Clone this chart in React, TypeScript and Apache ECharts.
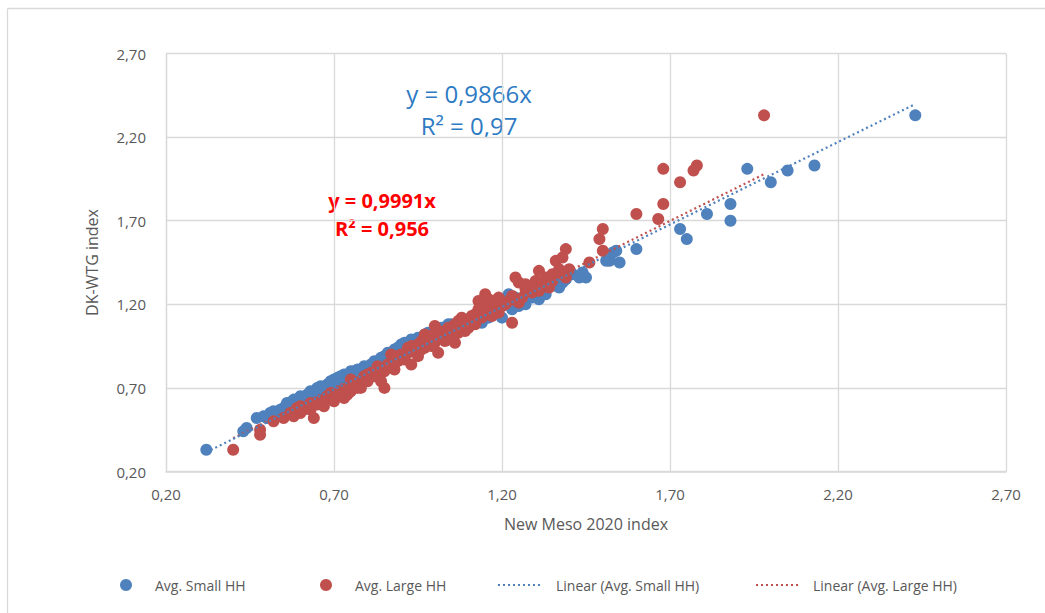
import React, { useEffect, useRef } from "react";
import * as echarts from "echarts";

const smallHH: number[][] = [
  [0.32, 0.33], [0.43, 0.44], [0.44, 0.46], [0.47, 0.52], [0.49, 0.53], [0.50, 0.52], [0.51, 0.55],
  [0.52, 0.56], [0.53, 0.55], [0.54, 0.57], [0.55, 0.58], [0.56, 0.59], [0.56, 0.61], [0.57, 0.60],
  [0.575, 0.57], [0.58, 0.63], [0.59, 0.62], [0.60, 0.63], [0.60, 0.65], [0.61, 0.64], [0.62, 0.66],
  [0.62, 0.62], [0.63, 0.68], [0.64, 0.67], [0.65, 0.70], [0.66, 0.71], [0.66, 0.68], [0.67, 0.69],
  [0.68, 0.72], [0.69, 0.73], [0.69, 0.74], [0.70, 0.72], [0.70, 0.75], [0.71, 0.76], [0.72, 0.74],
  [0.72, 0.77], [0.73, 0.78], [0.74, 0.77], [0.75, 0.80], [0.76, 0.80], [0.77, 0.81], [0.78, 0.78],
  [0.79, 0.83], [0.79, 0.80], [0.80, 0.82], [0.81, 0.84], [0.82, 0.86], [0.83, 0.86], [0.84, 0.88],
  [0.85, 0.89], [0.86, 0.91], [0.87, 0.90], [0.88, 0.93], [0.89, 0.94], [0.90, 0.96], [0.91, 0.97],
  [0.92, 0.96], [0.93, 0.99], [0.95, 1.00], [0.97, 1.02], [0.98, 1.03], [1.00, 1.05], [1.02, 1.06],
  [1.04, 1.08], [1.05, 1.08], [1.06, 1.05], [1.07, 1.08], [1.08, 1.10], [1.10, 1.11], [1.11, 1.09],
  [1.13, 1.11], [1.13, 1.12], [1.14, 1.09], [1.15, 1.14], [1.16, 1.12], [1.17, 1.18], [1.18, 1.15],
  [1.19, 1.17], [1.20, 1.12], [1.21, 1.23], [1.22, 1.20], [1.22, 1.26], [1.23, 1.17], [1.24, 1.24],
  [1.25, 1.23], [1.25, 1.19], [1.26, 1.21], [1.27, 1.20], [1.28, 1.26], [1.29, 1.24], [1.30, 1.28],
  [1.31, 1.23], [1.32, 1.29], [1.33, 1.26], [1.34, 1.32], [1.35, 1.31], [1.36, 1.34], [1.37, 1.30],
  [1.38, 1.33], [1.39, 1.35], [1.41, 1.38], [1.43, 1.36], [1.44, 1.39], [1.45, 1.36], [1.51, 1.46],
  [1.52, 1.46], [1.53, 1.51], [1.54, 1.52], [1.55, 1.45], [1.60, 1.53], [1.73, 1.65], [1.75, 1.59],
  [1.81, 1.74], [1.88, 1.70], [1.88, 1.80], [1.93, 2.01], [2.00, 1.93], [2.05, 2.00], [2.13, 2.03],
  [2.43, 2.33],
];

const largeHH: number[][] = [
  [0.40, 0.33], [0.48, 0.42], [0.48, 0.45], [0.52, 0.50], [0.55, 0.52], [0.57, 0.55], [0.58, 0.53],
  [0.59, 0.58], [0.60, 0.55], [0.60, 0.59], [0.61, 0.57], [0.62, 0.58], [0.63, 0.61], [0.63, 0.57],
  [0.64, 0.52], [0.65, 0.60], [0.66, 0.62], [0.67, 0.59], [0.67, 0.63], [0.68, 0.65], [0.69, 0.67],
  [0.70, 0.65], [0.70, 0.62], [0.71, 0.66], [0.72, 0.68], [0.73, 0.64], [0.73, 0.69], [0.74, 0.70],
  [0.74, 0.66], [0.75, 0.68], [0.75, 0.75], [0.76, 0.72], [0.77, 0.70], [0.77, 0.71], [0.78, 0.74],
  [0.78, 0.70], [0.79, 0.77], [0.80, 0.78], [0.80, 0.74], [0.81, 0.79], [0.82, 0.77], [0.83, 0.80],
  [0.83, 0.83], [0.84, 0.74], [0.85, 0.70], [0.85, 0.80], [0.86, 0.84], [0.87, 0.90], [0.87, 0.83],
  [0.88, 0.87], [0.88, 0.81], [0.89, 0.86], [0.89, 0.89], [0.90, 0.90], [0.91, 0.87], [0.92, 0.94],
  [0.92, 0.91], [0.93, 0.84], [0.93, 0.95], [0.94, 0.92], [0.95, 0.96], [0.95, 0.89], [0.96, 0.93],
  [0.96, 0.98], [0.97, 1.02], [0.97, 0.94], [0.98, 1.00], [0.99, 0.95], [0.99, 1.01], [1.00, 1.07],
  [1.00, 0.97], [1.01, 0.91], [1.01, 1.04], [1.02, 1.00], [1.03, 1.04], [1.03, 0.98], [1.04, 0.99],
  [1.04, 1.06], [1.05, 1.02], [1.06, 0.97], [1.06, 1.08], [1.07, 1.10], [1.07, 1.03], [1.08, 1.06],
  [1.08, 1.12], [1.09, 1.04], [1.09, 1.08], [1.10, 1.09], [1.10, 1.06], [1.11, 1.10], [1.11, 1.13],
  [1.12, 1.14], [1.12, 1.08], [1.13, 1.22], [1.13, 1.17], [1.14, 1.12], [1.14, 1.19], [1.15, 1.26],
  [1.15, 1.15], [1.16, 1.17], [1.16, 1.23], [1.17, 1.20], [1.17, 1.13], [1.18, 1.22], [1.18, 1.18],
  [1.19, 1.15], [1.19, 1.24], [1.20, 1.19], [1.21, 1.20], [1.22, 1.22], [1.23, 1.09], [1.23, 1.25],
  [1.24, 1.36], [1.25, 1.33], [1.25, 1.21], [1.26, 1.24], [1.27, 1.29], [1.27, 1.32], [1.28, 1.31],
  [1.29, 1.27], [1.30, 1.34], [1.30, 1.30], [1.31, 1.40], [1.31, 1.28], [1.32, 1.33], [1.33, 1.36],
  [1.33, 1.31], [1.34, 1.30], [1.35, 1.38], [1.35, 1.34], [1.36, 1.46], [1.37, 1.41], [1.38, 1.48],
  [1.38, 1.38], [1.39, 1.36], [1.39, 1.53], [1.40, 1.41], [1.46, 1.45], [1.49, 1.59], [1.50, 1.65],
  [1.50, 1.52], [1.60, 1.74], [1.665, 1.71], [1.68, 1.80], [1.68, 2.01], [1.73, 1.93], [1.77, 2.00],
  [1.78, 2.03], [1.98, 2.33],
];

const slopeSmall = 0.9866;
const slopeLarge = 0.9991;
const eqSmall = ["y = 0,9866x", "R² = 0,97"];
const eqLarge = ["y = 0,9991x", "R² = 0,956"];

const BLUE = "#4F81BD";
const RED = "#C0504D";
const GREY = "#595959";
const GRID = "#D9D9D9";
const FONT = "'Open Sans', sans-serif";

function trend(data: number[][], slope: number) {
  const xs = data.map((p) => p[0]);
  const lo = Math.min(...xs);
  const hi = Math.max(...xs);
  return [[lo, lo * slope], [hi, hi * slope]];
}

export default function App() {
  const ref = useRef<HTMLDivElement>(null);
  useEffect(() => {
    if (!ref.current) return;
    const chart = echarts.init(ref.current, undefined, { renderer: "svg" });
    const fmt = (v: number) => v.toFixed(2).replace(".", ",");
    const legendText = { color: GREY, fontSize: 14, fontFamily: FONT };
    chart.setOption({
      animation: false,
      backgroundColor: "#FFFFFF",
      grid: { left: 166, right: 39, top: 53.5, bottom: 141.5 },
      xAxis: {
        type: "value",
        min: 0.2,
        max: 2.7,
        interval: 0.5,
        name: "New Meso 2020 index",
        nameLocation: "middle",
        nameGap: 44,
        nameTextStyle: { color: GREY, fontSize: 16, fontFamily: FONT },
        axisLine: { show: true, lineStyle: { color: GRID, width: 1.5 } },
        axisTick: { show: false },
        axisLabel: { color: GREY, fontSize: 15, fontFamily: FONT, margin: 15, formatter: fmt },
        splitLine: { show: true, lineStyle: { color: GRID, width: 1.3 } },
      },
      yAxis: {
        type: "value",
        min: 0.2,
        max: 2.7,
        interval: 0.5,
        name: "DK-WTG index",
        nameLocation: "middle",
        nameGap: 66,
        nameTextStyle: { color: GREY, fontSize: 16, fontFamily: FONT },
        axisLine: { show: true, lineStyle: { color: GRID, width: 1.3 } },
        axisTick: { show: false },
        axisLabel: { color: GREY, fontSize: 15, fontFamily: FONT, margin: 20, formatter: fmt },
        splitLine: { show: true, lineStyle: { color: GRID, width: 1.3 } },
      },
      legend: [
        { data: [{ name: "Avg. Small HH", icon: "circle" }], left: 115, top: 573, itemWidth: 12, itemHeight: 12, textStyle: { ...legendText, padding: [0, 0, 0, 18] } },
        { data: [{ name: "Avg. Large HH", icon: "circle" }], left: 315, top: 573, itemWidth: 12, itemHeight: 12, textStyle: { ...legendText, padding: [0, 0, 0, 18] } },
        { data: [{ name: "Linear (Avg. Small HH)", itemStyle: { opacity: 0 } }], left: 492, top: 573, itemWidth: 43, itemHeight: 12, textStyle: { ...legendText, padding: [0, 0, 0, 10] } },
        { data: [{ name: "Linear (Avg. Large HH)", itemStyle: { opacity: 0 } }], left: 750, top: 573, itemWidth: 43, itemHeight: 12, textStyle: { ...legendText, padding: [0, 0, 0, 9] } },
      ],
      series: [
        {
          name: "Avg. Small HH",
          type: "scatter",
          data: smallHH,
          symbolSize: 12,
          itemStyle: { color: BLUE, opacity: 1 },
          z: 2,
        },
        {
          name: "Avg. Large HH",
          type: "scatter",
          data: largeHH,
          symbolSize: 12,
          itemStyle: { color: RED, opacity: 1 },
          z: 3,
        },
        {
          name: "Linear (Avg. Small HH)",
          type: "line",
          data: trend(smallHH, slopeSmall),
          showSymbol: false,
          symbol: "none",
          lineStyle: { color: BLUE, width: 2.2, type: [2, 3] },
          itemStyle: { color: BLUE },
          z: 5,
        },
        {
          name: "Linear (Avg. Large HH)",
          type: "line",
          data: trend(largeHH, slopeLarge),
          showSymbol: false,
          symbol: "none",
          lineStyle: { color: RED, width: 2.2, type: [2, 3] },
          itemStyle: { color: RED },
          z: 4,
        },
      ],
      graphic: [
        { type: "line", shape: { x1: 7.5, y1: 8.5, x2: 1045, y2: 8.5 }, style: { stroke: GRID, lineWidth: 1.3 } },
        { type: "line", shape: { x1: 7.5, y1: 8.5, x2: 7.5, y2: 613 }, style: { stroke: GRID, lineWidth: 1.3 } },
        { type: "text", x: 469, y: 93, style: { text: eqSmall[0], fill: "#2E7BC4", font: `24px ${FONT}`, textAlign: "center", textVerticalAlign: "middle" } },
        { type: "text", x: 469, y: 125, style: { text: eqSmall[1], fill: "#2E7BC4", font: `24px ${FONT}`, textAlign: "center", textVerticalAlign: "middle" } },
        { type: "text", x: 382, y: 200, style: { text: eqLarge[0], fill: "#FF0000", font: `bold 20px ${FONT}`, textAlign: "center", textVerticalAlign: "middle" } },
        { type: "text", x: 382, y: 228, style: { text: eqLarge[1], fill: "#FF0000", font: `bold 20px ${FONT}`, textAlign: "center", textVerticalAlign: "middle" } },
      ],
    });
    return () => chart.dispose();
  }, []);
  return <div ref={ref} style={{ position: "absolute", left: 0, top: 0, width: 1045, height: 613 }} />;
}
